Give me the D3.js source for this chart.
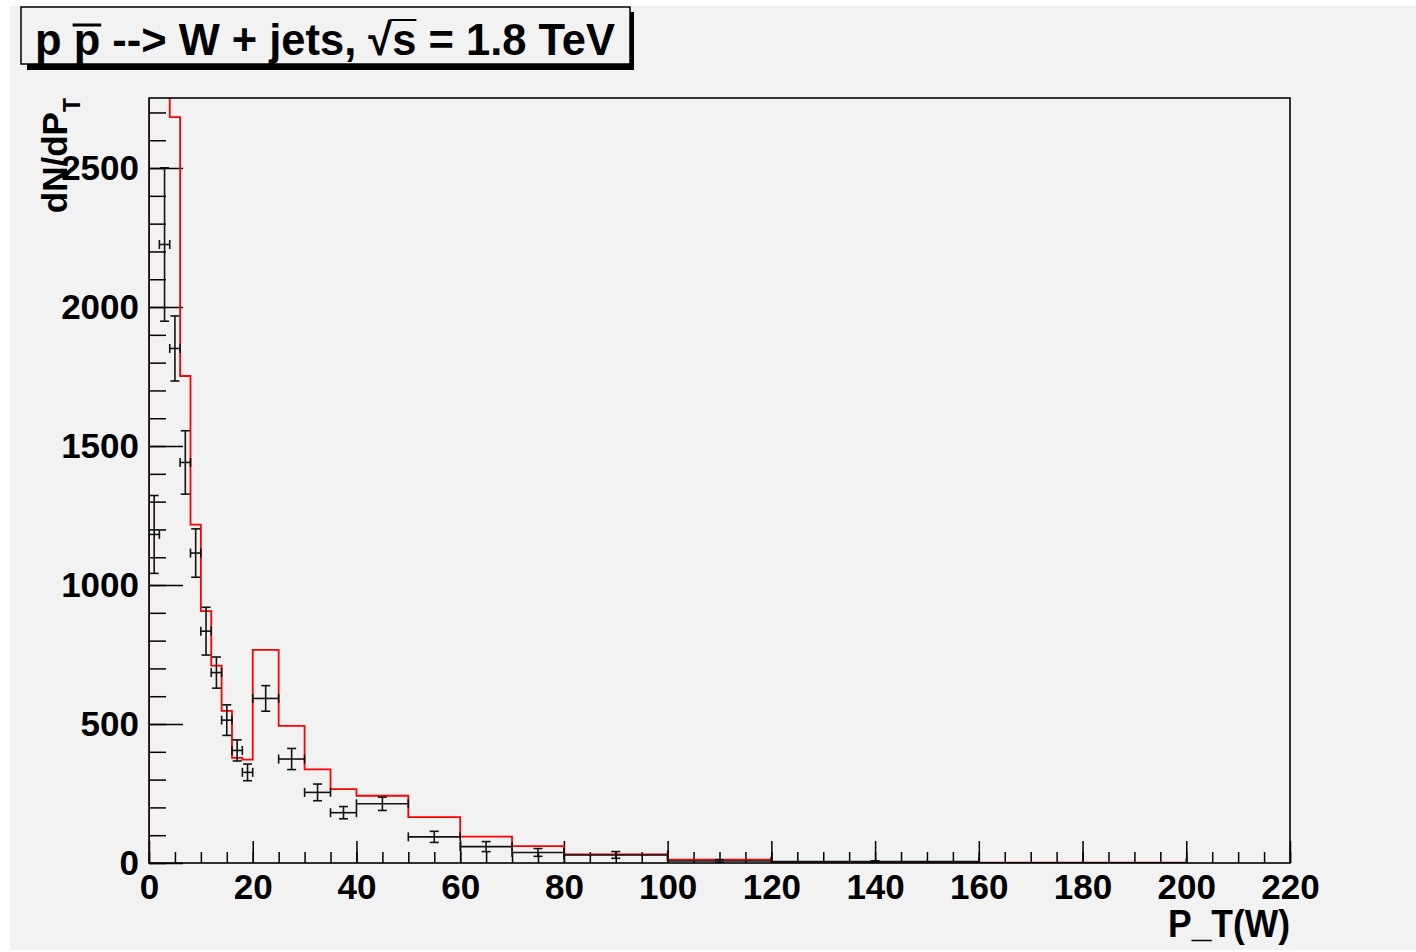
<!DOCTYPE html>
<html>
<head>
<meta charset="utf-8">
<script src="https://d3js.org/d3.v7.min.js"></script>
<style>
  body { margin: 0; background: #fff; }
  text { font-family: "Liberation Sans", Arial, Helvetica, sans-serif; font-weight: bold; }
</style>
</head>
<body>
<script>
// bin edges of the P_T(W) histogram
var binEdges = [0, 2, 4, 6, 8, 10, 12, 14, 16, 18, 20, 25, 30, 35, 40, 50, 60, 70, 80, 100, 120, 160, 200];
// red histogram (first two bins run off the top of the frame)
var mcCounts = [2900, 3100, 2683, 1752, 1217, 906, 710, 547, 378, 372, 767, 493, 337, 266, 242, 165, 95, 61, 31, 12, 4, 1];
// black points with errors
var dataCounts = [1182, 2225, 1851, 1441, 1115, 834, 685, 514, 405, 326, 592, 374, 254, 181, 213, 94, 59, 38, 29, 7, 5, 0.5];
var dataErrors = [140, 276, 117, 114, 87, 86, 56, 55, 38, 30, 46, 38, 30, 22, 24, 20, 18, 14, 12, 5, 3, 0.5];
// axis ticks
var xMajorTicks = d3.range(0, 221, 20);
var xMinorTicks = d3.range(0, 221, 5);
var yMajorTicks = d3.range(0, 2501, 500);
var yMinorTicks = d3.range(0, 2701, 100);

var W = 1416, H = 952;
var margin = {top: 98, left: 149, right: 126, bottom: 89};
var width = W - margin.left - margin.right,
    height = H - margin.top - margin.bottom;

var svg = d3.select("body").append("svg")
    .attr("width", W)
    .attr("height", H);

// canvas background
svg.append("rect")
    .attr("x", 10).attr("y", 6)
    .attr("width", W - 10).attr("height", H - 8)
    .attr("fill", "#f2f2f2");

var g = svg.append("g")
    .attr("transform", "translate(" + margin.left + "," + margin.top + ")");

var x = d3.scaleLinear().domain([0, 220]).range([0, width]);
var y = d3.scaleLinear().domain([0, 2752]).range([height, 0]);

g.append("clipPath").attr("id", "clip")
  .append("rect").attr("width", width).attr("height", height);

// axes: minor ticks then major ticks with labels, all pointing inward
function styleAxis(sel) {
  sel.select(".domain").remove();
  sel.selectAll("line").attr("stroke", "#000").attr("stroke-width", 1.5);
  sel.selectAll("text")
    .attr("fill", "#000")
    .style("font-size", "35px");
  sel.attr("font-family", null).attr("font-size", null);
}

g.append("g")
    .attr("transform", "translate(0," + height + ")")
    .call(d3.axisBottom(x).tickValues(xMinorTicks).tickSize(-11).tickFormat(""))
    .call(styleAxis);
g.append("g")
    .attr("transform", "translate(0," + height + ")")
    .call(d3.axisBottom(x).tickValues(xMajorTicks).tickSize(-22).tickPadding(11).tickFormat(d3.format("d")))
    .call(styleAxis);

g.append("g")
    .call(d3.axisLeft(y).tickValues(yMinorTicks).tickSize(-17).tickFormat(""))
    .call(styleAxis);
g.append("g")
    .call(d3.axisLeft(y).tickValues(yMajorTicks).tickSize(-34).tickPadding(10).tickFormat(d3.format("d")))
    .call(styleAxis);

// red histogram outline
var pts = [[x(binEdges[0]), y(0)]];
mcCounts.forEach(function(v, i) {
  pts.push([x(binEdges[i]), y(v)]);
  pts.push([x(binEdges[i + 1]), y(v)]);
});
pts.push([x(binEdges[binEdges.length - 1]), y(0)]);

g.append("path")
    .attr("clip-path", "url(#clip)")
    .attr("d", d3.line()(pts))
    .attr("fill", "none")
    .attr("stroke", "#ff0000")
    .attr("stroke-width", 1.8);

// data points with x and y error bars
var cap = 4.5;
var errG = g.append("g")
    .attr("clip-path", "url(#clip)")
    .attr("stroke", "#111")
    .attr("stroke-width", 1.6);

dataCounts.forEach(function(v, i) {
  var lo = binEdges[i], hi = binEdges[i + 1];
  var cx = x((lo + hi) / 2), cy = y(v);
  var yTop = y(v + dataErrors[i]), yBot = y(v - dataErrors[i]);
  var segs = [
    [cx, yTop, cx, yBot],
    [cx - cap, yTop, cx + cap, yTop],
    [cx - cap, yBot, cx + cap, yBot],
    [x(lo), cy, x(hi), cy],
    [x(lo), cy - cap, x(lo), cy + cap],
    [x(hi), cy - cap, x(hi), cy + cap]
  ];
  segs.forEach(function(s) {
    errG.append("line")
      .attr("x1", s[0]).attr("y1", s[1])
      .attr("x2", s[2]).attr("y2", s[3]);
  });
});

// frame
g.append("rect")
    .attr("width", width).attr("height", height)
    .attr("fill", "none")
    .attr("stroke", "#000")
    .attr("stroke-width", 1.6);

// axis titles
g.append("text")
    .attr("x", width)
    .attr("y", height + 74)
    .attr("text-anchor", "end")
    .attr("textLength", 122)
    .attr("lengthAdjust", "spacingAndGlyphs")
    .style("font-size", "39px")
    .text("P_T(W)");

var yTitle = svg.append("text")
    .attr("transform", "translate(67," + margin.top + ") rotate(-90)")
    .attr("text-anchor", "end")
    .style("font-size", "35px");
yTitle.append("tspan").text("dN/dP");
yTitle.append("tspan").attr("dy", 13).style("font-size", "23px").text("T");

// title box with shadow
svg.append("rect")
    .attr("x", 27).attr("y", 12)
    .attr("width", 607).attr("height", 58)
    .attr("fill", "#000");
svg.append("rect")
    .attr("x", 21).attr("y", 7)
    .attr("width", 609).attr("height", 57)
    .attr("fill", "#f2f2f2")
    .attr("stroke", "#000")
    .attr("stroke-width", 1.5);

var title = svg.append("text")
    .attr("x", 35).attr("y", 55)
    .attr("textLength", 580)
    .attr("lengthAdjust", "spacingAndGlyphs")
    .style("font-size", "45px")
    .text("p p --> W + jets, \u221As = 1.8 TeV");

// bars over anti-p and under the square root
var tn = title.node();
var pb = tn.getExtentOfChar(2);
svg.append("line")
    .attr("x1", pb.x - 1).attr("x2", pb.x + pb.width + 1)
    .attr("y1", 25).attr("y2", 25)
    .attr("stroke", "#000").attr("stroke-width", 3);
var rb = tn.getExtentOfChar(18), sb = tn.getExtentOfChar(19);
svg.append("line")
    .attr("x1", rb.x + rb.width - 2).attr("x2", sb.x + sb.width)
    .attr("y1", 20).attr("y2", 20)
    .attr("stroke", "#000").attr("stroke-width", 2);
</script>
</body>
</html>
